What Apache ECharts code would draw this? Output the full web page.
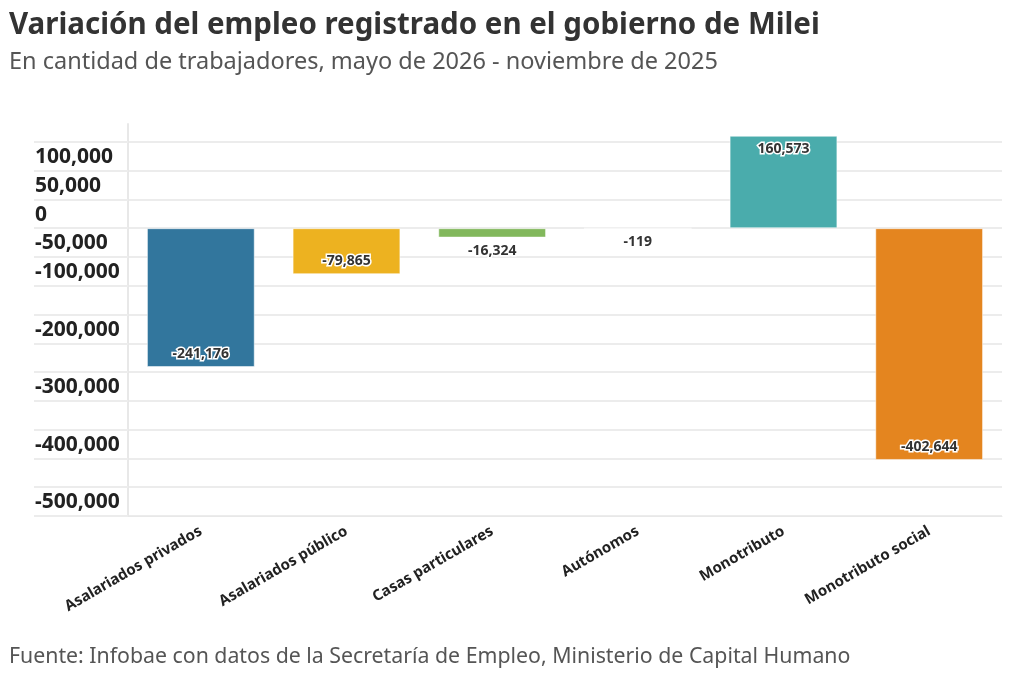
<!DOCTYPE html>
<html>
<head>
<meta charset="utf-8">
<script src="https://cdn.jsdelivr.net/npm/echarts@6/dist/echarts.min.js"></script>
<style>
  html, body { margin: 0; padding: 0; background: #fff; }
  #main { width: 1024px; height: 683px; }
</style>
</head>
<body>
<div id="main"></div>
<script>
// datos
const categorias = ["Asalariados privados", "Asalariados público", "Casas particulares", "Autónomos", "Monotributo", "Monotributo social"];
const variacion = [-241176, -79865, -16324, -119, 160573, -402644];
const colores = ["#32769d", "#edb220", "#82b85c", "#cfcfcf", "#4aacac", "#e4851f"];
const etiquetasY = [100000, 50000, 0, -50000, -100000, -200000, -300000, -400000, -500000];
const fuente = "Noto Sans";

const myChart = echarts.init(document.getElementById("main"));

const fmt = (v) => v.toLocaleString("en-US");

const datos = variacion.map(function (v, i) {
  let pos;
  if (v > 0) pos = "insideTop";
  else if (v < -50000) pos = "insideBottom";
  else pos = "bottom";
  return {
    value: v,
    itemStyle: { color: colores[i] },
    label: { position: pos },
  };
});

const option = {
  animation: false,
  title: [
    {
      text: "Variación del empleo registrado en el gobierno de Milei",
      left: 4,
      top: 6,
      textStyle: { fontFamily: fuente, fontWeight: "bold", fontSize: 29.5, color: "#333" },
    },
    {
      text: "En cantidad de trabajadores, mayo de 2026 - noviembre de 2025",
      left: 4,
      top: 45,
      textStyle: { fontFamily: fuente, fontWeight: "normal", fontSize: 23.5, color: "#555" },
    },
    {
      text: "Fuente: Infobae con datos de la Secretaría de Empleo, Ministerio de Capital Humano",
      left: 4,
      top: 641,
      textStyle: { fontFamily: fuente, fontWeight: "normal", fontSize: 21.3, color: "#555" },
    },
  ],
  grid: { left: 128, right: 22, top: 124, bottom: 167, containLabel: false },
  xAxis: {
    type: "category",
    data: categorias,
    axisLine: { onZero: false, lineStyle: { color: "#e8e8e8" } },
    axisTick: { alignWithLabel: true, length: 8, lineStyle: { color: "#e0e0e0" } },
    axisLabel: {
      rotate: 30,
      margin: 14,
      interval: 0,
      fontFamily: fuente,
      fontWeight: "bold",
      fontSize: 15,
      color: "#222",
    },
  },
  yAxis: {
    type: "value",
    min: -500000,
    max: 181000,
    interval: 50000,
    axisLine: { show: true, lineStyle: { color: "#e8e8e8", width: 2 } },
    axisTick: { show: true, length: 94, lineStyle: { color: "#ececec", width: 2 } },
    splitLine: { show: true, showMaxLine: false, lineStyle: { color: "#ececec", width: 2 } },
    axisLabel: {
      align: "left",
      verticalAlign: "bottom",
      lineHeight: 27,
      margin: 93,
      fontFamily: fuente,
      fontWeight: "bold",
      fontSize: 21,
      color: "#222",
      showMaxLabel: false,
      formatter: function (v) {
        return etiquetasY.indexOf(v) >= 0 ? fmt(v) : "";
      },
    },
  },
  series: [
    {
      type: "bar",
      data: datos,
      barCategoryGap: "26%",
      itemStyle: { borderColor: "rgba(255,255,255,0.5)", borderWidth: 1 },
      label: {
        show: true,
        distance: 6,
        fontFamily: fuente,
        fontWeight: "bold",
        fontSize: 14,
        color: "#333",
        textBorderColor: "#fff",
        textBorderWidth: 3,
        formatter: function (p) { return fmt(p.value); },
      },
    },
  ],
};

myChart.setOption(option);
</script>
</body>
</html>
